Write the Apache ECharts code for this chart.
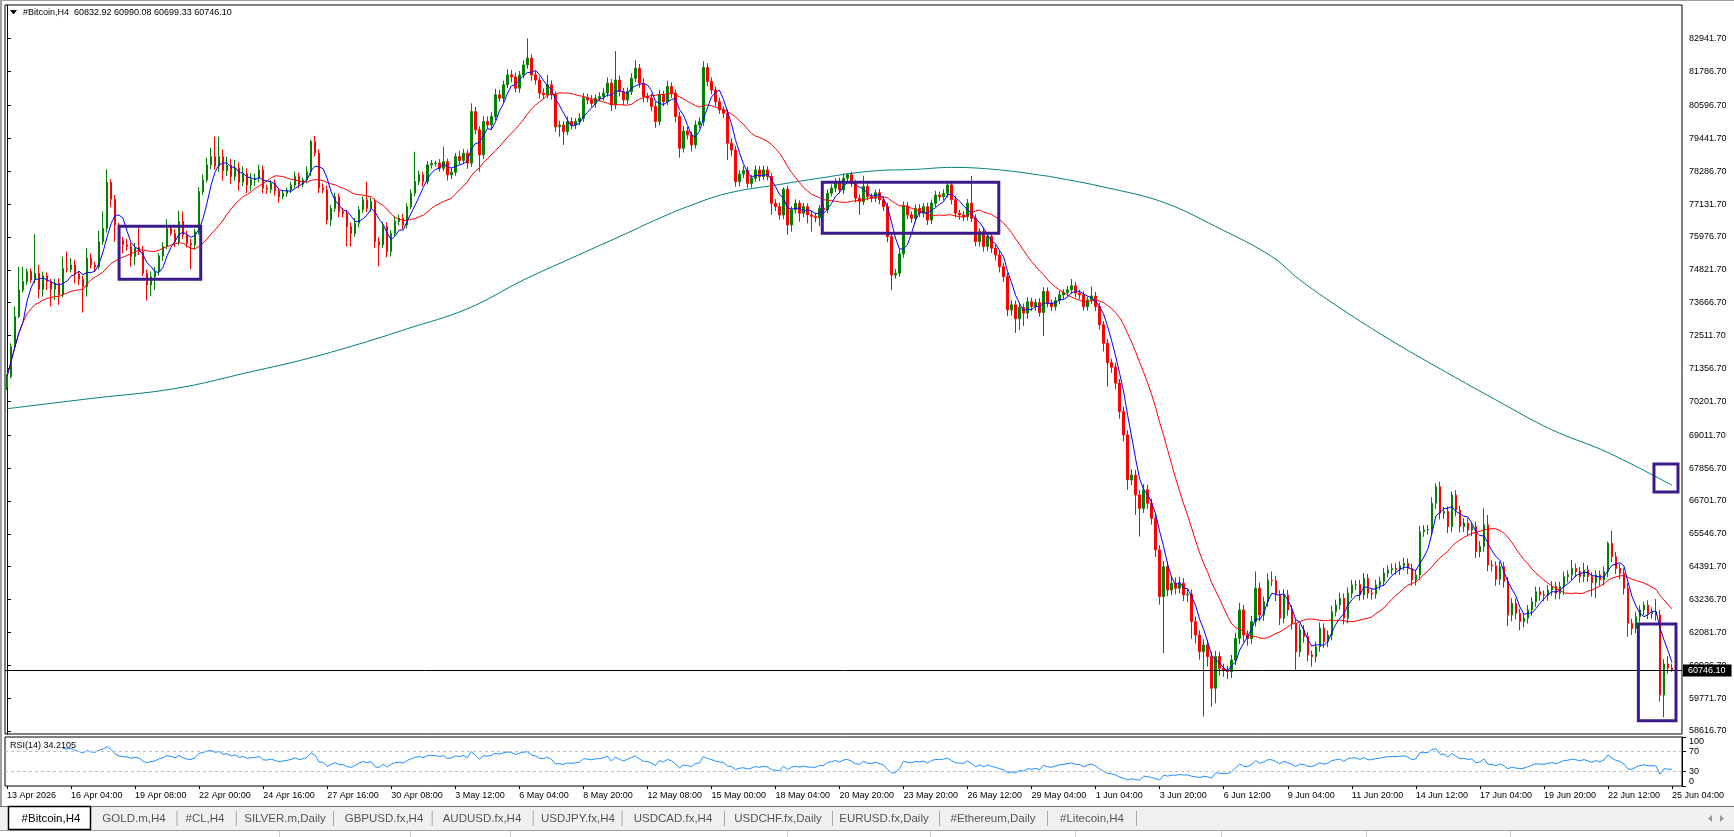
<!DOCTYPE html>
<html lang="en">
<head>
<meta charset="UTF-8">
<title>#Bitcoin,H4</title>
<script src="https://cdn.jsdelivr.net/npm/echarts@6/dist/echarts.min.js"></script>
<style>
  html, body { margin: 0; padding: 0; background: #fff; }
  #main { width: 1734px; height: 837px; }
</style>
</head>
<body>
<div id="main"></div>
<script>
// ---- data ----
// time labels, one every 16 bars
var timeLabels = ['13 Apr 2026', '16 Apr 04:00', '19 Apr 08:00', '22 Apr 00:00', '24 Apr 16:00', '27 Apr 16:00',
  '30 Apr 08:00', '3 May 12:00', '6 May 04:00', '8 May 20:00', '12 May 08:00', '15 May 00:00', '18 May 04:00',
  '20 May 20:00', '23 May 20:00', '26 May 12:00', '29 May 04:00', '1 Jun 04:00', '3 Jun 20:00', '6 Jun 12:00',
  '9 Jun 04:00', '11 Jun 20:00', '14 Jun 12:00', '17 Jun 04:00', '19 Jun 20:00', '22 Jun 12:00', '25 Jun 04:00'];

// price scale labels (MT4 steps)
var priceTicks = [82941.70, 81786.70, 80596.70, 79441.70, 78286.70, 77131.70, 75976.70, 74821.70, 73666.70,
  72511.70, 71356.70, 70201.70, 69011.70, 67856.70, 66701.70, 65546.70, 64391.70, 63236.70, 62081.70,
  60926.70, 59771.70, 58616.70];
var rsiTicks = [0, 30, 70, 100];
var rsiLevels = [70, 30];

// H4 closes, bar 0 .. 416 (open of a bar = previous close)
var firstOpen = 70700;
var closes = [
  71070,72120,73180,74110,74410,74760,74470,74700,74140,74610,74410,74140,74350,73940,74870,74840,
  74990,74680,74490,74230,75230,74990,74930,75810,76280,77890,77300,76400,75850,75700,75640,75290,
  75610,75460,74700,74290,74580,74760,75310,75640,76280,76100,75810,76520,76050,75750,75700,76160,
  77570,77980,78510,78800,78470,78800,78300,78500,78100,78400,77900,78200,77800,78000,78040,78330,
  77690,77650,77860,77590,77390,77510,77630,77800,78100,77830,77980,78270,79330,78920,77700,77630,
  76570,76980,77390,76870,76810,76340,76100,76460,76930,77280,76980,77220,75810,75700,76340,75460,
  76100,76520,76630,76400,77040,77510,77920,78160,77920,78510,78560,78570,78390,78620,78160,78250,
  78800,78660,78920,78570,80380,79740,78860,80030,79910,80210,80970,80850,81320,81670,81600,81200,
  81670,82020,82260,81670,81490,81030,80970,81320,80970,79850,79910,79680,80030,79910,80030,80150,
  80870,80790,80670,80850,80910,81030,81380,80620,81490,81080,80790,81080,81550,81900,81380,80910,
  80860,80560,80030,80970,80730,81260,81030,80210,79090,79700,79560,79210,79910,80030,81930,81440,
  81140,80730,80440,80320,79270,79030,77920,78190,78310,77860,78040,78330,78100,78330,78100,77160,
  77040,76750,77650,76400,76930,77160,76810,77040,76750,76700,76650,76980,76930,77510,77690,77920,
  77630,78040,78160,77860,77340,77220,77750,77390,77340,77530,77280,77040,75990,74640,74700,75380,
  77070,76750,76630,76980,76810,77040,76570,77160,77450,77390,77510,77800,77280,76810,76750,76690,
  77160,76630,75810,76160,75640,75990,75580,75340,74930,74580,73410,73590,73100,73500,73300,73700,
  73530,73670,73320,74060,73650,73530,73740,73940,74020,74120,74260,74000,73940,73530,73760,73900,
  73530,72890,72240,71560,71400,70840,69840,69020,67440,67610,66910,66440,67090,66620,66090,64980,
  63340,64390,63570,63810,63630,63810,63400,63420,62460,61990,61400,61640,61230,60120,61230,60820,
  60760,60700,61110,61870,62870,61990,61870,62460,63630,62690,63160,63920,63900,63400,62580,63400,
  62870,62400,61400,62170,61930,61290,61230,61580,62230,61760,61990,62810,63040,63280,62580,63460,
  63750,63760,63400,63980,63460,63430,63750,63870,64160,64280,64330,64280,64420,64510,64330,63920,
  64100,65620,65680,65700,66620,67200,66270,66330,65800,66910,66380,65800,65920,65680,65800,64920,
  65100,65860,64450,64420,63950,64390,63870,62690,63100,62750,62460,62580,62870,63160,63510,63400,
  63380,63570,63700,63450,63690,64040,64100,64330,64220,64040,64270,64040,63830,64100,63920,64220,
  65210,64740,64330,64160,63630,62400,62220,62630,62870,63040,62750,62800,62690,59880,60970,60832.92,
  60746.10
];

// upper wick above the body top, per bar
var wickUp = [
  80,120,350,820,520,100,110,1380,290,150,120,90,150,170,410,590,
  240,180,90,120,350,170,120,390,590,460,120,150,60,120,200,130,
  150,700,200,130,180,150,100,150,320,80,150,380,350,140,160,100,
  150,200,250,300,700,700,250,300,220,280,200,250,180,220,150,180,
  150,120,110,140,90,120,80,120,170,130,90,180,60,200,130,160,
  150,120,140,110,130,120,150,180,130,120,640,140,100,160,170,150,
  120,200,130,160,120,140,1050,150,110,130,120,90,140,530,110,140,
  130,200,150,120,290,160,120,200,180,150,210,180,150,200,180,150,
  140,160,690,130,150,120,170,350,160,120,150,130,180,150,120,170,
  160,140,170,130,150,170,200,140,1020,160,130,150,180,290,150,170,
  130,150,160,180,140,200,150,130,160,170,140,120,160,150,220,150,
  140,120,150,130,140,170,150,130,160,140,120,160,140,150,130,120,
  150,140,70,130,120,140,110,130,120,140,130,120,150,140,130,120,
  140,170,60,110,120,130,375,140,120,110,130,120,140,120,150,160,
  150,140,120,130,150,120,140,130,150,120,140,60,130,140,120,130,
  150,960,140,120,150,130,140,120,150,130,140,160,150,170,140,160,
  140,130,150,150,140,120,130,140,120,130,240,140,120,130,120,330,
  150,140,130,150,140,160,150,170,160,200,180,170,200,180,160,150,
  170,200,180,250,200,230,180,200,170,180,160,200,180,160,200,170,
  160,150,180,200,250,180,160,200,590,200,180,230,300,170,160,200,
  180,160,150,200,170,160,150,180,200,170,160,210,190,200,170,200,
  180,160,170,190,160,170,180,170,190,160,170,180,160,190,170,160,
  180,200,170,160,210,120,180,160,180,120,170,160,180,170,160,170,
  190,580,350,170,160,180,170,160,180,170,160,180,170,160,180,170,
  160,170,180,160,170,180,160,295,170,160,260,170,160,170,160,180,
  60,450,170,160,170,180,160,170,160,120,170,160,455,180,170,280,
  157.16
];

// lower wick below the body bottom, per bar
var wickDown = [
  100,60,80,60,90,120,100,120,320,260,300,610,380,350,90,110,
  100,330,200,910,350,120,150,100,110,150,280,590,390,300,150,360,
  310,120,100,550,390,470,130,180,100,80,200,120,150,150,860,180,
  100,120,90,150,130,200,350,180,260,150,300,140,280,200,230,140,
  180,160,130,170,210,90,120,110,100,150,110,120,150,120,180,120,
  160,210,130,200,150,700,470,120,150,110,130,120,220,760,110,200,
  170,120,140,150,130,90,110,120,170,100,130,110,120,100,200,150,
  120,140,110,200,130,150,590,140,120,170,130,120,160,110,190,140,
  160,120,140,200,160,190,150,120,170,180,350,470,130,160,140,120,
  130,150,120,160,110,140,130,220,150,170,190,140,120,130,160,200,
  150,170,220,130,160,120,170,200,330,150,160,230,130,120,150,160,
  150,170,140,160,590,220,180,160,140,170,150,130,160,120,140,410,
  160,170,150,350,240,130,300,150,300,540,160,300,130,120,110,140,
  130,150,120,130,150,470,120,130,150,140,160,150,200,540,130,120,
  130,150,160,140,130,150,170,140,130,140,130,150,160,150,170,160,
  140,130,160,170,180,160,170,190,200,180,220,200,500,400,450,200,
  160,150,140,820,150,160,140,120,150,130,140,150,160,140,150,130,
  160,170,290,840,200,220,250,230,350,180,700,990,160,200,220,250,
  280,1990,220,180,210,180,220,250,600,300,280,2280,350,650,530,260,
  240,260,220,180,200,240,260,190,180,220,200,180,200,220,240,180,
  200,220,640,180,210,230,350,200,180,220,200,180,170,160,220,180,
  170,180,200,170,190,200,160,170,160,150,160,170,180,160,200,210,
  190,170,180,170,180,200,220,200,230,200,220,210,190,200,210,230,
  200,190,220,200,230,200,220,390,220,210,310,200,190,200,190,210,
  200,190,200,210,200,290,200,190,200,210,190,180,490,550,200,190,
  200,190,200,210,220,470,230,170,200,190,200,190,200,230,780,200,
  46.77
];

// slow (teal) moving average, read at a few bars
var tealBar = [0, 21, 42, 61, 75, 90, 100, 115, 129, 141, 154, 162, 170, 180, 193, 203, 211, 218, 227, 236,
  243, 252, 258, 261, 275, 289, 302, 316, 323, 335, 347, 360, 372, 386, 400, 416];
var tealVal = [69940, 70300, 70650, 71240, 71700, 72300, 72750, 73450, 74460, 75230, 76050, 76570, 77040, 77510,
  77820, 78040, 78210, 78310, 78350, 78420, 78390, 78270, 78150, 78090, 77700, 77190, 76340, 75290, 74470,
  73300, 72240, 71190, 70250, 69200, 68400, 67250];

// drawn boxes: [fromBar, toBar, topPrice, bottomPrice]
var boxes = [
  [28, 48.4, 76352, 74490],
  [203.7, 247.8, 77898, 76106],
  [411.5, 417.5, 67999, 67015],
  [407.6, 417, 62377, 58978]
];

var rsiText = 'RSI(14) 34.2105';
var tabNames = ['#Bitcoin,H4', 'GOLD.m,H4', '#CL,H4', 'SILVER.m,Daily', 'GBPUSD.fx,H4', 'AUDUSD.fx,H4',
  'USDJPY.fx,H4', 'USDCAD.fx,H4', 'USDCHF.fx,Daily', 'EURUSD.fx,Daily', '#Ethereum,Daily', '#Litecoin,H4'];

// ---- build series ----
var nBars = closes.length;
var opens = closes.map(function (c, i) { return i === 0 ? firstOpen : closes[i - 1]; });
var candles = closes.map(function (c, i) {
  var o = opens[i];
  return [o, c, Math.min(o, c) - wickDown[i], Math.max(o, c) + wickUp[i]];
});

function sma(arr, n) {
  return arr.map(function (_, i) {
    var s = Math.max(0, i - n + 1), sum = 0;
    for (var k = s; k <= i; k++) sum += arr[k];
    return +(sum / (i - s + 1)).toFixed(2);
  });
}
function rsi(arr, n) {
  var out = arr.map(function () { return null; });
  var g = 0, l = 0, i, d;
  for (i = 1; i <= n; i++) { d = arr[i] - arr[i - 1]; if (d > 0) g += d; else l -= d; }
  g /= n; l /= n;
  out[n] = l === 0 ? 100 : 100 - 100 / (1 + g / l);
  for (i = n + 1; i < arr.length; i++) {
    d = arr[i] - arr[i - 1];
    g = (g * (n - 1) + Math.max(d, 0)) / n;
    l = (l * (n - 1) + Math.max(-d, 0)) / n;
    out[i] = l === 0 ? 100 : +(100 - 100 / (1 + g / l)).toFixed(2);
  }
  return out;
}
var maFast = sma(closes, 5);
var maMid = sma(closes, 20);
var rsiVals = rsi(closes, 14);
var teal = tealBar.map(function (b, k) { return [b, tealVal[k]]; });

// 2 empty slots after the last bar, like the MT4 right margin
var cats = [];
for (var i = 0; i < nBars + 2; i++) cats.push(String(i));
function showTime(idx) { return idx % 16 === 0 && idx / 16 < timeLabels.length; }

var last = candles[nBars - 1];
var lastClose = closes[nBars - 1];
var headerText = '#Bitcoin,H4  ' + [last[0], last[3], last[2], last[1]].map(function (v) { return v.toFixed(2); }).join(' ');

var FONT = 'Liberation Sans, Arial, sans-serif';

// ---- window chrome (tabs etc.) ----
var tabCenters = [51, 134, 205, 285, 384, 482, 578, 673, 778, 884, 993, 1092];
var tabSeps = [176.5, 235.8, 333, 431.7, 532.7, 621.5, 724, 832, 939, 1047, 1136];
var statusSeps = [279, 410, 510, 787, 930, 1075, 1221, 1366, 1510];
var chrome = [
  { type: 'rect', shape: { x: 0, y: 0, width: 1734, height: 1 }, style: { fill: '#a0a0a0' }, silent: true },
  { type: 'rect', shape: { x: 0, y: 0, width: 2, height: 806 }, style: { fill: '#a0a0a0' }, silent: true },
  { type: 'rect', shape: { x: 0, y: 806, width: 1734, height: 24 }, style: { fill: '#f0f0f0' }, silent: true },
  { type: 'rect', shape: { x: 0, y: 806, width: 1734, height: 1 }, style: { fill: '#6e6e6e' }, silent: true },
  { type: 'rect', shape: { x: 0, y: 830, width: 1734, height: 1 }, style: { fill: '#a0a0a0' }, silent: true },
  { type: 'rect', shape: { x: 8.5, y: 806.5, width: 82, height: 23 }, style: { fill: '#fff', stroke: '#000', lineWidth: 1.5 }, silent: true },
  { type: 'polygon', shape: { points: [[10, 10], [17, 10], [13.5, 14.5]] }, style: { fill: '#000' }, silent: true },
  { type: 'text', x: 23, y: 13, style: { text: headerText, fontSize: 9, fontFamily: FONT, fill: '#000', verticalAlign: 'middle' }, silent: true },
  { type: 'text', x: 10, y: 746, style: { text: rsiText, fontSize: 9, fontFamily: FONT, fill: '#000', verticalAlign: 'middle' }, silent: true },
  { type: 'polygon', shape: { points: [[1712, 815], [1712, 822], [1708, 818.5]] }, style: { fill: '#9a9a9a' }, silent: true },
  { type: 'polygon', shape: { points: [[1720, 815], [1720, 822], [1724, 818.5]] }, style: { fill: '#9a9a9a' }, silent: true }
];
tabNames.forEach(function (name, k) {
  chrome.push({ type: 'text', x: tabCenters[k], y: 818.5, silent: true,
    style: { text: name, fontSize: 11.5, fontFamily: FONT, fill: k === 0 ? '#000' : '#555', align: 'center', verticalAlign: 'middle' } });
});
tabSeps.forEach(function (x) {
  chrome.push({ type: 'rect', shape: { x: x, y: 811, width: 1, height: 15 }, style: { fill: '#a8a8a8' }, silent: true });
});
statusSeps.forEach(function (x) {
  chrome.push({ type: 'rect', shape: { x: x, y: 831, width: 1, height: 6 }, style: { fill: '#cfcfcf' }, silent: true });
});

// ---- chart ----
var myChart = echarts.init(document.getElementById('main'), null, { renderer: 'canvas' });

var option = {
  animation: false,
  backgroundColor: '#fff',
  textStyle: { fontFamily: FONT },
  grid: [
    { left: 5, top: 5, width: 1677, height: 729, show: true, borderColor: '#000', borderWidth: 1, backgroundColor: '#fff', outerBoundsMode: 'none' },
    { left: 5, top: 737, width: 1677, height: 49, show: true, borderColor: '#000', borderWidth: 1, backgroundColor: '#fff', outerBoundsMode: 'none' }
  ],
  xAxis: [
    { type: 'category', gridIndex: 0, data: cats, boundaryGap: true,
      axisLine: { show: false }, axisTick: { show: false }, axisLabel: { show: false }, splitLine: { show: false } },
    { type: 'category', gridIndex: 1, data: cats, boundaryGap: true,
      axisLine: { show: false },
      axisTick: { show: true, alignWithLabel: true, interval: showTime, length: 3, lineStyle: { color: '#000' } },
      axisLabel: { interval: showTime, align: 'left', fontSize: 9, color: '#000', margin: 5,
        formatter: function (v) { return timeLabels[+v / 16]; } },
      splitLine: { show: false } },
    // plain bar-number axis for the drawn boxes
    { type: 'value', gridIndex: 0, min: -0.5, max: nBars + 1.5, show: false }
  ],
  yAxis: [
    { type: 'value', gridIndex: 0, position: 'right', min: 58511, max: 84126, scale: true,
      splitLine: { show: false },
      axisLine: { show: true, lineStyle: { color: '#000' } },
      axisTick: { show: true, customValues: priceTicks, length: 4, lineStyle: { color: '#000' } },
      axisLabel: { customValues: priceTicks, fontSize: 9, color: '#000', margin: 7,
        formatter: function (v) { return v.toFixed(2); } } },
    { type: 'value', gridIndex: 1, position: 'right', min: 0, max: 100,
      splitLine: { show: false },
      axisLine: { show: true, lineStyle: { color: '#000' } },
      axisTick: { show: true, customValues: rsiTicks, length: 4, lineStyle: { color: '#000' } },
      axisLabel: { customValues: rsiTicks, fontSize: 9, color: '#000', margin: 7,
        verticalAlignMaxLabel: 'top', verticalAlignMinLabel: 'bottom' } }
  ],
  series: [
    { name: 'Teal MA', type: 'line', xAxisIndex: 0, yAxisIndex: 0, data: teal, showSymbol: false, smooth: 0.4,
      lineStyle: { color: '#008080', width: 1 }, silent: true, z: 2 },
    { name: 'Bitcoin', type: 'candlestick', xAxisIndex: 0, yAxisIndex: 0, data: candles, barWidth: 2,
      itemStyle: { color: '#008000', color0: '#ff0000', borderColor: '#008000', borderColor0: '#ff0000', borderWidth: 1 },
      silent: true, z: 3,
      markLine: { silent: true, symbol: 'none', animation: false,
        data: [{ yAxis: lastClose }],
        lineStyle: { color: '#000', width: 1, type: 'solid' },
        label: { show: true, position: 'end', distance: 1, formatter: lastClose.toFixed(2),
          color: '#fff', backgroundColor: '#000', fontSize: 9, padding: [2, 6, 1, 5] } } },
    { name: 'MA 20', type: 'line', xAxisIndex: 0, yAxisIndex: 0, data: maMid, showSymbol: false,
      lineStyle: { color: '#ff0000', width: 1 }, silent: true, z: 4 },
    { name: 'MA 5', type: 'line', xAxisIndex: 0, yAxisIndex: 0, data: maFast, showSymbol: false,
      lineStyle: { color: '#0000ff', width: 1 }, silent: true, z: 5 },
    { name: 'Boxes', type: 'custom', xAxisIndex: 2, yAxisIndex: 0, data: boxes, silent: true, z: 6,
      encode: { x: [0, 1], y: [2, 3] },
      renderItem: function (params, api) {
        var p0 = api.coord([api.value(0), api.value(2)]);
        var p1 = api.coord([api.value(1), api.value(3)]);
        return { type: 'rect', shape: { x: p0[0], y: p0[1], width: p1[0] - p0[0], height: p1[1] - p0[1] },
          style: { fill: 'none', stroke: '#3c1a8c', lineWidth: 3 } };
      } },
    { name: 'RSI(14)', type: 'line', xAxisIndex: 1, yAxisIndex: 1, data: rsiVals, showSymbol: false,
      lineStyle: { color: '#1e90ff', width: 1 }, silent: true,
      markLine: { silent: true, symbol: 'none', animation: false,
        data: rsiLevels.map(function (v) { return { yAxis: v }; }),
        lineStyle: { color: '#c0c0c0', width: 1, type: [3, 3] }, label: { show: false } } }
  ],
  graphic: chrome
};

myChart.setOption(option);
</script>
</body>
</html>
